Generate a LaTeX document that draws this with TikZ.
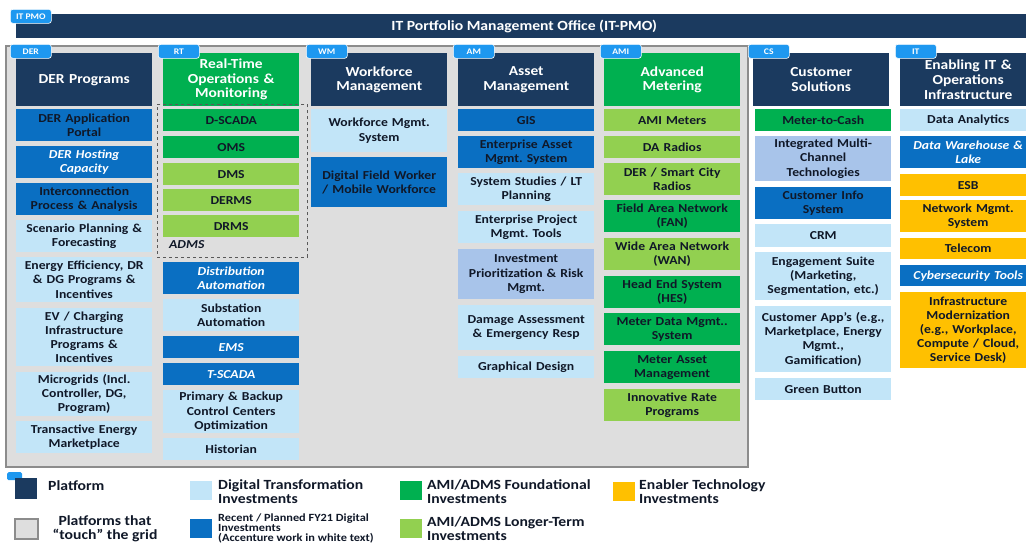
\documentclass[tikz,border=0pt]{standalone}
\usepackage{fontspec}
\setmainfont{Carlito}[FakeStretch=1.12]
\definecolor{navy}{HTML}{1B3A5F}
\definecolor{tabblue}{HTML}{1E98F0}
\definecolor{medblue}{HTML}{0A6FC2}
\definecolor{ltblue}{HTML}{C2E5F8}
\definecolor{periw}{HTML}{A8C4EA}
\definecolor{dkgreen}{HTML}{00B050}
\definecolor{ltgreen}{HTML}{92D050}
\definecolor{orng}{HTML}{FFC000}
\definecolor{gridgray}{HTML}{DEDEDE}
\definecolor{gridborder}{HTML}{8C8C8C}
\definecolor{darktext}{HTML}{101828}
\newcommand\mybox[6]{\node[item,#5,minimum height=#4pt] (#1) at (#2,#3) {#6};}
\begin{document}
\frenchspacing
\begin{tikzpicture}[x=1pt,y=-1pt,
  item/.style={inner sep=0pt, anchor=north west, minimum width=136pt, text width=135pt, align=center,
     font=\fontsize{12.2}{14.2}\selectfont\bfseries, text=darktext},
  lb/.style={fill=ltblue},
  mb/.style={fill=medblue},
  mbw/.style={fill=medblue, text=white, font=\fontsize{12.2}{14.2}\selectfont\bfseries\itshape},
  pw/.style={fill=periw},
  dg/.style={fill=dkgreen},
  lg/.style={fill=ltgreen},
  og/.style={fill=orng},
  header/.style={inner sep=0pt, anchor=north west, minimum width=136pt, minimum height=53pt, text width=135pt,
     align=center, text=white, font=\fontsize{13.8}{14.6}\selectfont\bfseries},
  tabbox/.style={fill=tabblue, draw=white, line width=0.6pt, rounded corners=2.5pt, inner sep=0pt, anchor=north west,
     minimum width=41pt, minimum height=14pt, text=white, font=\fontsize{8.6}{9}\selectfont\bfseries},
  legtext/.style={anchor=west, inner sep=0pt, align=left, text=darktext, font=\fontsize{14}{14.2}\selectfont\bfseries},
  sw/.style={inner sep=0pt, anchor=north west, minimum width=22pt, minimum height=19pt}
]
\useasboundingbox (0,0) rectangle (1026,544);
\clip (0,0) rectangle (1026,544);
\fill[white] (0,0) rectangle (1026,544);

% IT PMO bar
\node[fill=navy, inner sep=0pt, anchor=north west, minimum width=1012pt, minimum height=24pt, text=white,
  font=\fontsize{14}{16}\selectfont\bfseries] (pmo) at (16,14) {\hspace*{4pt}IT Portfolio Management Office (IT-PMO)};
\node[tabbox] (pmotab) at (10,9) {IT PMO};

% grid area
\node[fill=gridgray, draw=gridborder, line width=2.2pt, inner sep=0pt, anchor=north west,
  minimum width=742pt, minimum height=421pt] (grid) at (5,45) {};

% headers
\node[header, fill=navy] (hder) at (16,53) {DER Programs};
\node[header, fill=dkgreen] (hrt) at (163,53) {Real-Time\\Operations \&\\Monitoring};
\node[header, fill=navy] (hwm) at (311,53) {Workforce\\Management};
\node[header, fill=navy] (ham) at (458,53) {Asset\\Management};
\node[header, fill=dkgreen] (hami) at (604,53) {Advanced\\Metering};
\node[header, fill=navy] (hcs) at (753,53) {Customer\\Solutions};
\node[header, fill=navy] (hit) at (900,53) {Enabling IT \&\\Operations\\Infrastructure};

% tabs
\node[tabbox] (tder) at (10,44) {DER};
\node[tabbox] (trt) at (158,44) {RT};
\node[tabbox] (twm) at (306,44) {WM};
\node[tabbox] (tam) at (453,44) {AM};
\node[tabbox] (tami) at (600,44) {AMI};
\node[tabbox] (tcs) at (748,44) {CS};
\node[tabbox] (tit) at (895,44) {IT};

% DER column
\mybox{d1}{16}{109}{32}{mb}{DER Application\\Portal}
\mybox{d2}{16}{146}{32}{mbw}{DER Hosting\\Capacity}
\mybox{d3}{16}{183}{32}{mb}{Interconnection\\Process \& Analysis}
\mybox{d4}{16}{220}{32}{lb}{Scenario Planning \&\\Forecasting}
\mybox{d5}{16}{257}{45}{lb}{Energy Efficiency, DR\\\& DG Programs \&\\Incentives}
\mybox{d6}{16}{308}{58}{lb}{EV / Charging\\Infrastructure\\Programs \&\\Incentives}
\mybox{d7}{16}{372}{44}{lb}{Microgrids (Incl.\\Controller, DG,\\Program)}
\mybox{d8}{16}{421}{32}{lb}{Transactive Energy\\Marketplace}

% RT column
\node[draw=gray!70!black, dashed, line width=0.6pt, inner sep=0pt, anchor=north west,
  minimum width=150pt, minimum height=153pt] (admsbox) at (157,104) {};
\mybox{r1}{163}{109}{22}{dg}{D-SCADA}
\mybox{r2}{163}{136}{22}{dg}{OMS}
\mybox{r3}{163}{163}{22}{lg}{DMS}
\mybox{r4}{163}{189}{22}{lg}{DERMS}
\mybox{r5}{163}{215}{22}{lg}{DRMS}
\node[anchor=west, inner sep=0pt, text=darktext, font=\fontsize{12.2}{13}\selectfont\bfseries\itshape] (admslbl) at (169,245) {ADMS};
\mybox{r6}{163}{262}{32}{mbw}{Distribution\\Automation}
\mybox{r7}{163}{299}{32}{lb}{Substation\\Automation}
\mybox{r8}{163}{336}{22}{mbw}{EMS}
\mybox{r9}{163}{363}{22}{mbw}{T-SCADA}
\mybox{r10}{163}{390}{43}{lb}{Primary \& Backup\\Control Centers\\Optimization}
\mybox{r11}{163}{438}{22}{lb}{Historian}

% WM column
\mybox{w1}{311}{109}{43}{lb}{Workforce Mgmt.\\System}
\mybox{w2}{311}{157}{50}{mb}{Digital Field Worker\\/ Mobile Workforce}

% AM column
\mybox{a1}{458}{109}{22}{mb}{GIS}
\mybox{a2}{458}{136}{32}{mb}{Enterprise Asset\\Mgmt. System}
\mybox{a3}{458}{173}{32}{lb}{System Studies / LT\\Planning}
\mybox{a4}{458}{211}{32}{lb}{Enterprise Project\\Mgmt. Tools}
\mybox{a5}{458}{249}{50}{pw}{Investment\\Prioritization \& Risk\\Mgmt.}
\mybox{a6}{458}{305}{45}{lb}{Damage Assessment\\\& Emergency Resp}
\mybox{a7}{458}{356}{22}{lb}{Graphical Design}

% AMI column
\mybox{m1}{604}{109}{22}{lg}{AMI Meters}
\mybox{m2}{604}{136}{22}{lg}{DA Radios}
\mybox{m3}{604}{163}{32}{lg}{DER / Smart City\\Radios}
\mybox{m4}{604}{200}{32}{dg}{Field Area Network\\(FAN)}
\mybox{m5}{604}{238}{32}{lg}{Wide Area Network\\(WAN)}
\mybox{m6}{604}{276}{32}{dg}{Head End System\\(HES)}
\mybox{m7}{604}{313}{32}{dg}{Meter Data Mgmt..\\System}
\mybox{m8}{604}{351}{32}{dg}{Meter Asset\\Management}
\mybox{m9}{604}{389}{32}{lg}{Innovative Rate\\Programs}

% CS column
\mybox{c1}{755}{109}{22}{dg}{Meter-to-Cash}
\mybox{c2}{755}{136}{45}{pw}{Integrated Multi-\\Channel\\Technologies}
\mybox{c3}{755}{187}{32}{mb}{Customer Info\\System}
\mybox{c4}{755}{224}{23}{lb}{CRM}
\mybox{c5}{755}{252}{48}{lb}{Engagement Suite\\(Marketing,\\Segmentation, etc.)}
\mybox{c6}{755}{306}{66}{lb}{Customer App’s (e.g.,\\Marketplace, Energy\\Mgmt.,\\Gamification)}
\mybox{c7}{755}{378}{22}{lb}{Green Button}

% IT column
\mybox{i1}{900}{109}{22}{lb}{Data Analytics}
\mybox{i2}{900}{136}{32}{mbw}{Data Warehouse \&\\Lake}
\mybox{i3}{900}{174}{22}{og}{ESB}
\mybox{i4}{900}{200}{32}{og}{Network Mgmt.\\System}
\mybox{i5}{900}{238}{21}{og}{Telecom}
\mybox{i6}{900}{265}{21}{mbw}{Cybersecurity Tools}
\mybox{i7}{900}{292}{76}{og}{Infrastructure\\Modernization\\(e.g., Workplace,\\Compute / Cloud,\\Service Desk)}

% Legend
\node[fill=tabblue, rounded corners=1.5pt, inner sep=0pt, anchor=north west, minimum width=15pt, minimum height=8pt] (lgtab) at (7,472) {};
\node[sw, fill=navy, minimum height=21pt] (lgnavy) at (15,478) {};
\node[legtext] (lgplat) at (48,486) {Platform};
\node[sw, fill=gridgray, draw=gridborder, line width=1.5pt, minimum width=23pt, minimum height=20pt] (lggray) at (14,518) {};
\node[inner sep=0pt, align=center, text=darktext, font=\fontsize{14}{13.6}\selectfont\bfseries] (lggrayt) at (105,529) {Platforms that\\“touch” the grid};
\node[sw, fill=ltblue] (lglb) at (190,481) {};
\node[legtext] (lglbt) at (218,492) {Digital Transformation\\Investments};
\node[sw, fill=medblue] (lgmb) at (190,519) {};
\node[legtext, font=\fontsize{11}{10}\selectfont\bfseries] (lgmbt) at (218,528) {Recent / Planned FY21 Digital\\Investments\\(Accenture work in white text)};
\node[sw, fill=dkgreen] (lgdg) at (400,481) {};
\node[legtext] (lgdgt) at (427,492) {AMI/ADMS Foundational\\Investments};
\node[sw, fill=ltgreen] (lglg) at (400,519) {};
\node[legtext] (lglgt) at (427,529) {AMI/ADMS Longer-Term\\Investments};
\node[sw, fill=orng] (lgog) at (613,482) {};
\node[legtext] (lgogt) at (639,492) {Enabler Technology\\Investments};
\end{tikzpicture}
\end{document}
